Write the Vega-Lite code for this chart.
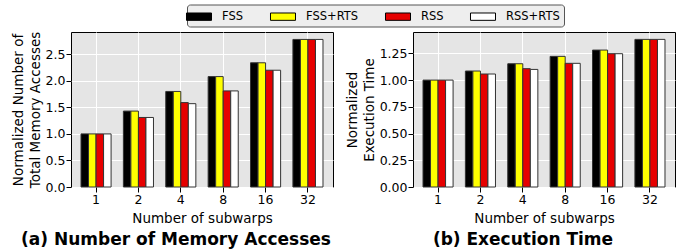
{
  "$schema": "https://vega.github.io/schema/vega-lite/v6.json",
  "padding": {"left": 11, "top": 4, "right": 5, "bottom": 0},
  "background": "white",
  "datasets": {
    "mem": [
      {"subwarps": "1", "scheme": "FSS", "value": 1.0},
      {"subwarps": "1", "scheme": "FSS+RTS", "value": 1.0},
      {"subwarps": "1", "scheme": "RSS", "value": 1.0},
      {"subwarps": "1", "scheme": "RSS+RTS", "value": 1.0},
      {"subwarps": "2", "scheme": "FSS", "value": 1.43},
      {"subwarps": "2", "scheme": "FSS+RTS", "value": 1.43},
      {"subwarps": "2", "scheme": "RSS", "value": 1.31},
      {"subwarps": "2", "scheme": "RSS+RTS", "value": 1.31},
      {"subwarps": "4", "scheme": "FSS", "value": 1.80},
      {"subwarps": "4", "scheme": "FSS+RTS", "value": 1.80},
      {"subwarps": "4", "scheme": "RSS", "value": 1.59},
      {"subwarps": "4", "scheme": "RSS+RTS", "value": 1.57},
      {"subwarps": "8", "scheme": "FSS", "value": 2.08},
      {"subwarps": "8", "scheme": "FSS+RTS", "value": 2.08},
      {"subwarps": "8", "scheme": "RSS", "value": 1.81},
      {"subwarps": "8", "scheme": "RSS+RTS", "value": 1.81},
      {"subwarps": "16", "scheme": "FSS", "value": 2.34},
      {"subwarps": "16", "scheme": "FSS+RTS", "value": 2.34},
      {"subwarps": "16", "scheme": "RSS", "value": 2.20},
      {"subwarps": "16", "scheme": "RSS+RTS", "value": 2.20},
      {"subwarps": "32", "scheme": "FSS", "value": 2.78},
      {"subwarps": "32", "scheme": "FSS+RTS", "value": 2.78},
      {"subwarps": "32", "scheme": "RSS", "value": 2.78},
      {"subwarps": "32", "scheme": "RSS+RTS", "value": 2.78}
    ],
    "time": [
      {"subwarps": "1", "scheme": "FSS", "value": 1.0},
      {"subwarps": "1", "scheme": "FSS+RTS", "value": 1.0},
      {"subwarps": "1", "scheme": "RSS", "value": 1.0},
      {"subwarps": "1", "scheme": "RSS+RTS", "value": 1.0},
      {"subwarps": "2", "scheme": "FSS", "value": 1.085},
      {"subwarps": "2", "scheme": "FSS+RTS", "value": 1.085},
      {"subwarps": "2", "scheme": "RSS", "value": 1.057},
      {"subwarps": "2", "scheme": "RSS+RTS", "value": 1.057},
      {"subwarps": "4", "scheme": "FSS", "value": 1.153},
      {"subwarps": "4", "scheme": "FSS+RTS", "value": 1.153},
      {"subwarps": "4", "scheme": "RSS", "value": 1.107},
      {"subwarps": "4", "scheme": "RSS+RTS", "value": 1.10},
      {"subwarps": "8", "scheme": "FSS", "value": 1.222},
      {"subwarps": "8", "scheme": "FSS+RTS", "value": 1.222},
      {"subwarps": "8", "scheme": "RSS", "value": 1.157},
      {"subwarps": "8", "scheme": "RSS+RTS", "value": 1.157},
      {"subwarps": "16", "scheme": "FSS", "value": 1.281},
      {"subwarps": "16", "scheme": "FSS+RTS", "value": 1.281},
      {"subwarps": "16", "scheme": "RSS", "value": 1.247},
      {"subwarps": "16", "scheme": "RSS+RTS", "value": 1.247},
      {"subwarps": "32", "scheme": "FSS", "value": 1.381},
      {"subwarps": "32", "scheme": "FSS+RTS", "value": 1.381},
      {"subwarps": "32", "scheme": "RSS", "value": 1.381},
      {"subwarps": "32", "scheme": "RSS+RTS", "value": 1.381}
    ]
  },
  "config": {
    "font": "DejaVu Sans",
    "view": {"stroke": "black", "strokeWidth": 1, "fill": "#e5e5e5"},
    "axis": {
      "labelFont": "DejaVu Sans", "titleFont": "DejaVu Sans",
      "labelFontSize": 12.5, "titleFontSize": 13.5, "titleFontWeight": "normal",
      "labelColor": "black", "titleColor": "black",
      "tickColor": "black", "tickSize": 5, "labelPadding": 1,
      "gridColor": "white", "gridWidth": 1, "gridOpacity": 1,
      "domain": false
    },
    "legend": {
      "labelFont": "DejaVu Sans", "labelFontSize": 11.5, "labelColor": "black"
    },
    "title": {"font": "DejaVu Sans", "fontSize": 17, "fontWeight": "bold", "color": "black"}
  },
  "spacing": 11,
  "hconcat": [
    {
      "width": 262, "height": 155,
      "data": {"name": "mem"},
      "title": {"text": "(a) Number of Memory Accesses", "orient": "bottom", "offset": 7, "frame": "group", "dx": -26},
      "mark": {"type": "bar", "stroke": "#333333", "strokeWidth": 1},
      "encoding": {
        "x": {"field": "subwarps", "type": "ordinal", "sort": ["1", "2", "4", "8", "16", "32"],
              "scale": {"paddingInner": 0.29, "paddingOuter": 0.236},
              "axis": {"title": "Number of subwarps", "labelAngle": 0, "grid": true, "titlePadding": 6}},
        "xOffset": {"field": "scheme", "type": "nominal", "sort": ["FSS", "FSS+RTS", "RSS", "RSS+RTS"],
                    "scale": {"paddingInner": 0, "paddingOuter": 0}},
        "y": {"field": "value", "type": "quantitative",
              "scale": {"domain": [0, 2.92], "nice": false, "zero": true},
              "axis": {"values": [0, 0.5, 1, 1.5, 2, 2.5], "format": ".1f",
                       "title": ["Normalized Number of", "Total Memory Accesses"],
                       "titleLineHeight": 16.5, "titlePadding": 3}},
        "color": {"field": "scheme", "type": "nominal",
                  "scale": {"domain": ["FSS", "FSS+RTS", "RSS", "RSS+RTS"], "range": ["#000000", "#ffff00", "#e60000", "#ffffff"]},
                  "legend": {"title": null, "orient": "none", "direction": "horizontal", "columns": 4,
                             "legendX": 116, "legendY": -27.5,
                             "symbolType": "M-1.667,-0.49H1.667V0.49H-1.667Z", "symbolSize": 225,
                             "symbolStrokeColor": "black", "symbolStrokeWidth": 1,
                             "labelOffset": 15, "columnPadding": 24,
                             "padding": 4, "fillColor": "#eeeeee", "strokeColor": "#555555", "cornerRadius": 3}}
      }
    },
    {
      "width": 262, "height": 155,
      "data": {"name": "time"},
      "title": {"text": "(b) Execution Time", "orient": "bottom", "offset": 7, "frame": "group", "dx": -21},
      "mark": {"type": "bar", "stroke": "#333333", "strokeWidth": 1},
      "encoding": {
        "x": {"field": "subwarps", "type": "ordinal", "sort": ["1", "2", "4", "8", "16", "32"],
              "scale": {"paddingInner": 0.29, "paddingOuter": 0.236},
              "axis": {"title": "Number of subwarps", "labelAngle": 0, "grid": true, "titlePadding": 6}},
        "xOffset": {"field": "scheme", "type": "nominal", "sort": ["FSS", "FSS+RTS", "RSS", "RSS+RTS"],
                    "scale": {"paddingInner": 0, "paddingOuter": 0}},
        "y": {"field": "value", "type": "quantitative",
              "scale": {"domain": [0, 1.45], "nice": false, "zero": true},
              "axis": {"values": [0, 0.25, 0.5, 0.75, 1, 1.25], "format": ".2f",
                       "title": ["Normalized", "Execution Time"],
                       "titleLineHeight": 16.5, "titlePadding": 3}},
        "color": {"field": "scheme", "type": "nominal",
                  "scale": {"domain": ["FSS", "FSS+RTS", "RSS", "RSS+RTS"], "range": ["#000000", "#ffff00", "#e60000", "#ffffff"]},
                  "legend": {"title": null, "orient": "none", "direction": "horizontal", "columns": 4,
                             "legendX": 116, "legendY": -27.5,
                             "symbolType": "M-1.667,-0.49H1.667V0.49H-1.667Z", "symbolSize": 225,
                             "symbolStrokeColor": "black", "symbolStrokeWidth": 1,
                             "labelOffset": 15, "columnPadding": 24,
                             "padding": 4, "fillColor": "#eeeeee", "strokeColor": "#555555", "cornerRadius": 3}}
      }
    }
  ]
}
